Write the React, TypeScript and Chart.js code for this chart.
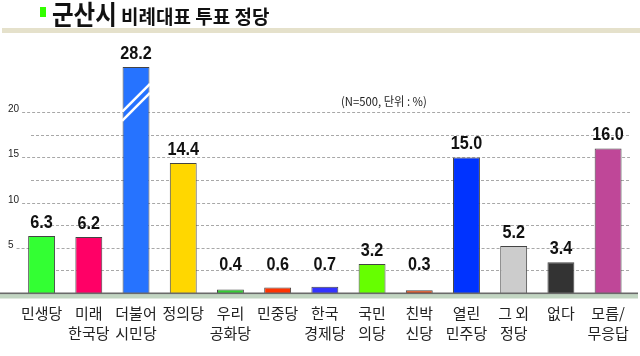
import React, { useEffect, useRef } from "react";
import { Chart, registerables } from "chart.js";

Chart.register(...registerables);

// ---- data ----
const categories: string[][] = [
  ["민생당"],
  ["미래", "한국당"],
  ["더불어", "시민당"],
  ["정의당"],
  ["우리", "공화당"],
  ["민중당"],
  ["한국", "경제당"],
  ["국민", "의당"],
  ["친박", "신당"],
  ["열린", "민주당"],
  ["그 외", "정당"],
  ["없다"],
  ["모름/", "무응답"],
];
const values: number[] = [6.3, 6.2, 28.2, 14.4, 0.4, 0.6, 0.7, 3.2, 0.3, 15.0, 5.2, 3.4, 16.0];
const barColors: string[] = [
  "#33ff33", "#ff0066", "#2673ff", "#ffd700", "#33cc33", "#ff3300", "#3333ff",
  "#66ff00", "#dd4411", "#0033ff", "#cccccc", "#333333", "#bf4798",
];
const yTickLabels: number[] = [5, 10, 15, 20];
const gridValues: number[] = [2.5, 5, 7.5, 10, 12.5, 15, 17.5, 20];
const BREAK_AT = 25; // bars above this value are drawn broken (axis break)
const yMax = 28;

const LABEL_FONT = '"Liberation Sans", Arial, sans-serif';

const decorPlugin = {
  id: "decor",
  beforeDatasetsDraw(chart: any) {
    const { ctx } = chart;
    const y = chart.scales.y;
    ctx.save();
    ctx.font = `10px ${LABEL_FONT}`;
    ctx.fillStyle = "#222";
    ctx.textAlign = "left";
    ctx.textBaseline = "alphabetic";
    gridValues.forEach((v) => {
      const py = Math.round(y.getPixelForValue(v)) + 0.5;
      let x0 = 31;
      if (yTickLabels.includes(v)) {
        const t = String(v);
        ctx.fillText(t, 8, py - 1);
        x0 = 8 + ctx.measureText(t).width + 3;
      }
      ctx.strokeStyle = "#a8a8a8";
      ctx.lineWidth = 1;
      ctx.setLineDash([3, 2]);
      ctx.beginPath();
      ctx.moveTo(x0, py);
      ctx.lineTo(630, py);
      ctx.stroke();
    });
    ctx.restore();
  },
  afterDatasetsDraw(chart: any) {
    const { ctx } = chart;
    const y = chart.scales.y;
    const zeroY = y.getPixelForValue(0);
    ctx.save();
    // base line + band
    ctx.fillStyle = "#c2d5c2";
    ctx.fillRect(0, zeroY + 1, 638, 4.5);
    ctx.fillStyle = "#6a6a6a";
    ctx.fillRect(0, zeroY - 0.5, 638, 1.6);

    const meta = chart.getDatasetMeta(0);
    values.forEach((v, i) => {
      const bar: any = meta.data[i];
      if (v > BREAK_AT) {
        const half = bar.width / 2 + 0.5;
        [21.6, 20.6].forEach((m) => {
          const my = y.getPixelForValue(m);
          ctx.strokeStyle = "#ffffff";
          ctx.lineWidth = 2.5;
          ctx.beginPath();
          ctx.moveTo(bar.x - half, my + half);
          ctx.lineTo(bar.x + half, my - half);
          ctx.stroke();
        });
      }
      const base = Math.min(bar.y - 8, zeroY - 23);
      ctx.save();
      ctx.translate(bar.x, base);
      ctx.scale(0.9, 1);
      ctx.font = `bold 18px ${LABEL_FONT}`;
      ctx.fillStyle = "#111";
      ctx.textAlign = "center";
      ctx.textBaseline = "alphabetic";
      ctx.fillText(v.toFixed(1), 0, 0);
      ctx.restore();
    });
    ctx.restore();
  },
};

export default function App() {
  const canvasRef = useRef<HTMLCanvasElement | null>(null);

  useEffect(() => {
    if (!canvasRef.current) return;
    const chart = new Chart(canvasRef.current, {
      type: "bar",
      data: {
        labels: categories,
        datasets: [
          {
            data: values.map((v) => Math.min(v, BREAK_AT)),
            backgroundColor: barColors,
            borderColor: "#444",
            borderWidth: 1,
            barPercentage: 0.57,
            categoryPercentage: 1.0,
          },
        ],
      },
      options: {
        responsive: false,
        animation: false,
        devicePixelRatio: 1,
        layout: { padding: { left: 18, right: 5, top: 40, bottom: 0 } },
        plugins: {
          legend: { display: false },
          tooltip: { enabled: false },
          title: { display: false },
        },
        scales: {
          x: {
            grid: { display: false, drawTicks: false },
            border: { display: false },
            ticks: {
              autoSkip: false,
              maxRotation: 0,
              minRotation: 0,
              padding: 11,
              color: "#222",
              font: { family: '"Noto Sans CJK KR", sans-serif', size: 15, lineHeight: 1.3 },
            },
            afterFit: (s: any) => {
              s.height = 63;
            },
          },
          y: {
            display: false,
            min: 0,
            max: yMax,
          },
        },
      },
      plugins: [decorPlugin],
    });
    return () => chart.destroy();
  }, []);

  return (
    <div
      style={{
        position: "fixed",
        left: 0,
        top: 0,
        width: 640,
        height: 356,
        background: "#fff",
        overflow: "hidden",
      }}
    >
      <canvas ref={canvasRef} width={640} height={356} style={{ position: "absolute", left: 0, top: 0 }} />
      <div style={{ position: "absolute", left: 40, top: 7, width: 6, height: 10, background: "#33ff00" }} />
      <div
        style={{
          position: "absolute",
          left: 52,
          top: 0,
          fontFamily: '"Noto Sans CJK KR", sans-serif',
          fontWeight: 700,
          fontSize: 27,
          lineHeight: "27px",
          color: "#111",
          transform: "scaleX(0.87)",
          transformOrigin: "left top",
          whiteSpace: "nowrap",
        }}
      >
        군산시
      </div>
      <div
        style={{
          position: "absolute",
          left: 121,
          top: 6,
          fontFamily: '"Noto Sans CJK KR", sans-serif',
          fontWeight: 700,
          fontSize: 19,
          lineHeight: "19px",
          color: "#111",
          whiteSpace: "nowrap",
        }}
      >
        비례대표 투표 정당
      </div>
      <div style={{ position: "absolute", left: 2, top: 28, width: 638, height: 5, background: "#e5e1cb" }} />
      <div
        style={{
          position: "absolute",
          left: 341,
          top: 94,
          fontFamily: '"Noto Sans CJK KR", sans-serif',
          fontSize: 12,
          lineHeight: "14px",
          color: "#222",
          transform: "scaleX(0.94)",
          transformOrigin: "left top",
          whiteSpace: "nowrap",
        }}
      >
        (N=500, 단위 : %)
      </div>
    </div>
  );
}
